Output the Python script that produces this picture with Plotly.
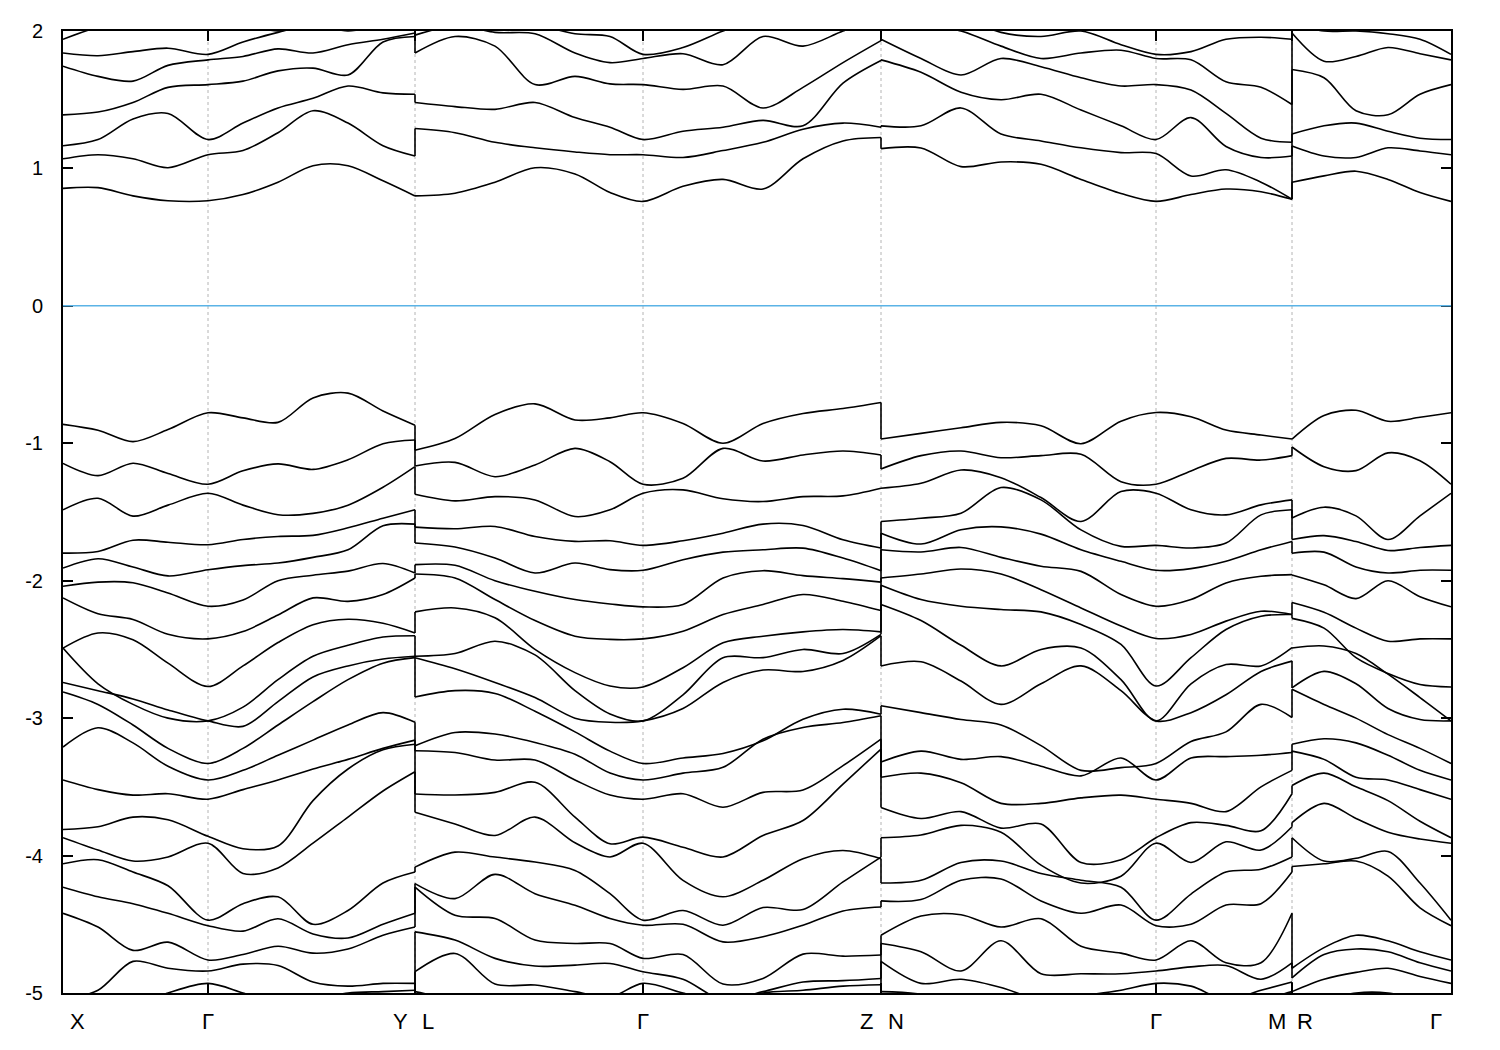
import plotly.graph_objects as go

# ---------------- high-symmetry points (path length units) ----------------
sym_labels = ["X", "Γ", "Y", "L", "Γ", "Z", "N", "Γ", "M", "R", "Γ"]
sym_k = [0.00, 1.45, 3.52, 3.52, 5.80, 8.18, 8.18, 10.93, 12.29, 12.29, 13.88]
grid_k = [1.45, 3.52, 5.80, 8.18, 10.93, 12.29]

# ---------------- segment 1 : X - Γ - Y ----------------
seg1_k = [0.00, 0.35, 0.70, 1.05, 1.45, 1.80, 2.15, 2.50, 2.85, 3.20, 3.52]
seg1_cond = [
    [0.855, 0.86, 0.80, 0.765, 0.765, 0.81, 0.90, 1.02, 1.02, 0.91, 0.80],
    [1.07, 1.10, 1.07, 1.005, 1.10, 1.13, 1.26, 1.42, 1.33, 1.165, 1.09],
    [1.165, 1.21, 1.36, 1.40, 1.21, 1.33, 1.44, 1.51, 1.60, 1.55, 1.54],
    [1.39, 1.41, 1.48, 1.59, 1.61, 1.635, 1.71, 1.73, 1.68, 1.92, 1.96],
    [1.744, 1.67, 1.635, 1.75, 1.79, 1.815, 1.87, 1.84, 1.90, 1.94, 1.985],
    [1.84, 1.82, 1.85, 1.875, 1.83, 1.92, 1.99, 2.05, 2.05, 2.10, 2.15],
    [1.94, 2.03, 2.10, 2.12, 2.06, 2.05, 2.00, 2.05, 2.00, 2.05, 2.10],
]
seg1_val = [
    [-0.862, -0.905, -0.988, -0.90, -0.778, -0.815, -0.848, -0.67, -0.635, -0.765, -0.868],
    [-1.146, -1.235, -1.145, -1.22, -1.298, -1.20, -1.15, -1.19, -1.12, -1.003, -0.976],
    [-1.484, -1.40, -1.53, -1.45, -1.364, -1.45, -1.52, -1.51, -1.45, -1.32, -1.17],
    [-1.799, -1.787, -1.705, -1.72, -1.738, -1.70, -1.678, -1.67, -1.615, -1.545, -1.484],
    [-1.908, -1.84, -1.90, -1.965, -1.92, -1.89, -1.871, -1.83, -1.775, -1.60, -1.588],
    [-2.04, -2.01, -2.015, -2.09, -2.186, -2.14, -2.00, -1.96, -1.93, -1.875, -1.944],
    [-2.125, -2.24, -2.282, -2.39, -2.423, -2.37, -2.25, -2.125, -2.15, -2.10, -1.98],
    [-2.49, -2.38, -2.43, -2.60, -2.77, -2.62, -2.45, -2.32, -2.28, -2.31, -2.38],
    [-2.49, -2.75, -2.90, -3.00, -3.02, -2.92, -2.72, -2.55, -2.47, -2.41, -2.40],
    [-2.74, -2.80, -2.86, -2.94, -3.02, -3.06, -2.88, -2.70, -2.62, -2.57, -2.55],
    [-2.81, -2.90, -3.05, -3.22, -3.33, -3.22, -3.05, -2.88, -2.72, -2.60, -2.56],
    [-3.21, -3.07, -3.18, -3.35, -3.45, -3.38, -3.27, -3.16, -3.05, -2.96, -3.03],
    [-3.45, -3.52, -3.56, -3.55, -3.59, -3.52, -3.45, -3.37, -3.30, -3.22, -3.16],
    [-3.81, -3.79, -3.72, -3.74, -3.86, -3.95, -3.93, -3.60, -3.37, -3.23, -3.19],
    [-3.87, -3.96, -4.04, -4.01, -3.91, -4.13, -4.09, -3.91, -3.72, -3.53, -3.39],
    [-4.06, -4.03, -4.12, -4.22, -4.47, -4.35, -4.30, -4.50, -4.40, -4.20, -4.12],
    [-4.23, -4.30, -4.35, -4.42, -4.51, -4.55, -4.46, -4.57, -4.60, -4.50, -4.42],
    [-4.42, -4.52, -4.69, -4.63, -4.76, -4.72, -4.66, -4.71, -4.68, -4.58, -4.52],
    [-5.05, -4.98, -4.77, -4.82, -4.84, -4.79, -4.80, -4.92, -4.95, -4.93, -4.93],
    [-5.20, -5.15, -5.10, -5.00, -4.93, -5.00, -5.08, -5.05, -5.00, -4.99, -4.98],
    [-5.30, -5.30, -5.30, -5.30, -5.30, -5.30, -5.30, -5.30, -5.30, -5.30, -5.30],
]

# ---------------- segment 2 : L - Γ - Z ----------------
seg2_k = [3.52, 3.92, 4.32, 4.72, 5.12, 5.47, 5.80, 6.20, 6.60, 7.00, 7.40, 7.80, 8.18]
seg2_cond = [
    [0.80, 0.82, 0.90, 1.005, 0.96, 0.825, 0.76, 0.87, 0.92, 0.85, 1.07, 1.20, 1.225],
    [1.29, 1.26, 1.19, 1.15, 1.12, 1.10, 1.10, 1.08, 1.13, 1.19, 1.285, 1.33, 1.30],
    [1.48, 1.45, 1.43, 1.48, 1.37, 1.30, 1.21, 1.27, 1.30, 1.35, 1.31, 1.62, 1.785],
    [1.84, 1.96, 1.89, 1.61, 1.67, 1.615, 1.61, 1.575, 1.60, 1.44, 1.59, 1.77, 1.93],
    [2.05, 2.05, 1.99, 1.98, 1.84, 1.77, 1.80, 1.835, 1.755, 1.96, 1.89, 2.00, 2.10],
    [1.97, 2.05, 2.10, 2.05, 1.98, 1.96, 1.83, 1.88, 2.00, 2.10, 2.15, 2.15, 2.15],
    [2.20, 2.20, 2.20, 2.15, 2.10, 2.08, 2.06, 2.10, 2.15, 2.20, 2.20, 2.20, 2.20],
]
seg2_val = [
    [-1.05, -0.965, -0.79, -0.713, -0.83, -0.815, -0.778, -0.856, -1.00, -0.856, -0.783, -0.747, -0.703],
    [-1.165, -1.139, -1.243, -1.158, -1.037, -1.134, -1.298, -1.255, -1.037, -1.129, -1.085, -1.056, -1.085],
    [-1.371, -1.419, -1.388, -1.412, -1.533, -1.484, -1.364, -1.339, -1.404, -1.424, -1.388, -1.383, -1.327],
    [-1.61, -1.622, -1.605, -1.678, -1.714, -1.709, -1.743, -1.709, -1.654, -1.588, -1.598, -1.702, -1.762],
    [-1.726, -1.755, -1.835, -1.944, -1.871, -1.919, -1.924, -1.847, -1.792, -1.775, -1.763, -1.835, -1.927],
    [-1.883, -1.888, -2.00, -2.077, -2.137, -2.169, -2.19, -2.173, -1.98, -1.927, -1.963, -1.985, -2.01],
    [-1.951, -1.98, -2.137, -2.29, -2.404, -2.427, -2.423, -2.367, -2.246, -2.173, -2.10, -2.149, -2.217],
    [-2.227, -2.198, -2.27, -2.50, -2.669, -2.766, -2.773, -2.633, -2.452, -2.404, -2.372, -2.355, -2.372],
    [-2.55, -2.53, -2.44, -2.54, -2.80, -2.97, -3.02, -2.83, -2.56, -2.56, -2.50, -2.53, -2.39],
    [-2.56, -2.64, -2.74, -2.85, -3.00, -3.03, -3.02, -2.93, -2.74, -2.65, -2.66, -2.58, -2.40],
    [-2.846, -2.80, -2.82, -2.95, -3.10, -3.24, -3.33, -3.29, -3.257, -3.165, -3.008, -2.935, -2.971],
    [-3.201, -3.104, -3.116, -3.177, -3.262, -3.40, -3.45, -3.40, -3.358, -3.153, -3.068, -3.032, -2.983],
    [-3.237, -3.25, -3.305, -3.305, -3.45, -3.56, -3.59, -3.55, -3.648, -3.54, -3.523, -3.346, -3.153],
    [-3.552, -3.559, -3.54, -3.467, -3.72, -3.914, -3.866, -3.939, -4.01, -3.854, -3.745, -3.48, -3.225],
    [-3.685, -3.77, -3.854, -3.72, -3.907, -4.01, -3.91, -4.18, -4.30, -4.18, -4.023, -3.963, -4.023],
    [-4.084, -3.975, -4.011, -4.047, -4.108, -4.277, -4.47, -4.40, -4.507, -4.378, -4.393, -4.192, -4.011],
    [-4.204, -4.313, -4.137, -4.277, -4.362, -4.458, -4.507, -4.50, -4.628, -4.591, -4.507, -4.403, -4.374],
    [-4.229, -4.434, -4.458, -4.615, -4.64, -4.64, -4.748, -4.72, -4.935, -4.894, -4.717, -4.732, -4.724],
    [-4.555, -4.615, -4.748, -4.804, -4.797, -4.785, -4.845, -4.90, -5.05, -4.99, -4.92, -4.91, -4.894],
    [-4.845, -4.712, -4.935, -4.942, -4.99, -5.03, -4.93, -5.00, -5.08, -5.00, -4.98, -4.95, -4.94],
    [-4.99, -5.05, -5.10, -5.10, -5.10, -5.10, -5.10, -5.15, -5.20, -5.20, -5.20, -5.20, -5.20],
]

# ---------------- segment 3 : N - Γ - M ----------------
seg3_k = [8.18, 8.58, 8.98, 9.38, 9.78, 10.18, 10.58, 10.93, 11.28, 11.63, 11.98, 12.29]
seg3_cond = [
    [1.144, 1.149, 1.013, 1.047, 1.03, 0.92, 0.817, 0.76, 0.81, 0.85, 0.83, 0.776],
    [1.31, 1.31, 1.44, 1.25, 1.20, 1.15, 1.115, 1.108, 0.945, 0.99, 0.90, 0.776],
    [1.79, 1.70, 1.555, 1.50, 1.54, 1.425, 1.31, 1.21, 1.37, 1.16, 1.08, 1.09],
    [1.94, 1.80, 1.68, 1.80, 1.74, 1.66, 1.60, 1.61, 1.57, 1.40, 1.22, 1.19],
    [2.10, 2.05, 2.00, 1.89, 1.80, 1.84, 1.86, 1.80, 1.79, 1.63, 1.59, 1.465],
    [2.20, 2.15, 2.10, 1.99, 1.96, 2.00, 1.90, 1.83, 1.85, 1.94, 1.955, 1.94],
    [2.30, 2.30, 2.30, 2.25, 2.20, 2.20, 2.10, 2.06, 2.15, 2.20, 2.20, 2.20],
]
seg3_val = [
    [-0.969, -0.928, -0.887, -0.848, -0.873, -1.003, -0.839, -0.776, -0.807, -0.904, -0.94, -0.969],
    [-1.187, -1.09, -1.056, -1.105, -1.09, -1.08, -1.279, -1.298, -1.201, -1.11, -1.122, -1.09],
    [-1.327, -1.291, -1.194, -1.25, -1.395, -1.569, -1.351, -1.363, -1.484, -1.521, -1.448, -1.412],
    [-1.569, -1.545, -1.509, -1.322, -1.412, -1.63, -1.75, -1.743, -1.762, -1.726, -1.521, -1.484],
    [-1.654, -1.733, -1.629, -1.608, -1.661, -1.775, -1.859, -1.924, -1.912, -1.859, -1.775, -1.714],
    [-1.775, -1.791, -1.758, -1.83, -1.895, -1.932, -2.101, -2.186, -2.137, -2.016, -1.968, -1.956],
    [-1.98, -1.951, -1.915, -1.951, -2.065, -2.198, -2.33, -2.42, -2.391, -2.294, -2.222, -2.246],
    [-2.033, -2.137, -2.186, -2.21, -2.227, -2.319, -2.464, -2.766, -2.56, -2.355, -2.258, -2.246],
    [-2.173, -2.29, -2.47, -2.62, -2.50, -2.49, -2.72, -3.02, -2.75, -2.61, -2.62, -2.487],
    [-2.62, -2.59, -2.73, -2.90, -2.75, -2.62, -2.80, -3.02, -2.96, -2.83, -2.66, -2.585],
    [-2.91, -2.96, -3.01, -3.05, -3.20, -3.38, -3.36, -3.33, -3.17, -3.10, -2.90, -2.995],
    [-3.32, -3.24, -3.30, -3.28, -3.35, -3.42, -3.29, -3.45, -3.29, -3.28, -3.27, -3.25],
    [-3.43, -3.40, -3.47, -3.62, -3.62, -3.58, -3.56, -3.59, -3.62, -3.68, -3.50, -3.38],
    [-3.65, -3.73, -3.68, -3.80, -3.77, -4.05, -4.03, -3.87, -3.76, -3.78, -3.82, -3.55],
    [-3.87, -3.85, -3.78, -3.83, -4.07, -4.20, -4.15, -3.91, -4.05, -3.90, -3.96, -3.79],
    [-4.20, -4.18, -4.05, -4.04, -4.13, -4.18, -4.23, -4.47, -4.28, -4.12, -4.10, -4.01],
    [-4.33, -4.32, -4.18, -4.17, -4.33, -4.42, -4.36, -4.51, -4.50, -4.36, -4.35, -4.12],
    [-4.58, -4.44, -4.43, -4.52, -4.46, -4.66, -4.71, -4.76, -4.62, -4.78, -4.78, -4.42],
    [-4.64, -4.70, -4.84, -4.62, -4.86, -4.86, -4.86, -4.84, -4.81, -4.80, -4.90, -4.78],
    [-4.77, -4.93, -4.90, -4.96, -5.05, -5.02, -4.98, -4.93, -4.95, -5.05, -4.98, -4.92],
    [-4.99, -5.01, -5.10, -5.15, -5.10, -5.10, -5.05, -5.05, -5.08, -5.10, -5.05, -4.99],
]

# ---------------- segment 4 : R - Γ ----------------
seg4_k = [12.29, 12.61, 12.93, 13.25, 13.57, 13.88]
seg4_cond = [
    [0.90, 0.946, 0.98, 0.92, 0.825, 0.76],
    [1.163, 1.09, 1.08, 1.15, 1.127, 1.10],
    [1.25, 1.31, 1.33, 1.27, 1.22, 1.21],
    [1.72, 1.66, 1.42, 1.39, 1.54, 1.61],
    [1.985, 1.78, 1.815, 1.88, 1.835, 1.79],
    [2.05, 2.00, 2.00, 1.98, 1.94, 1.83],
    [2.20, 2.20, 2.15, 2.10, 2.10, 2.05],
]
seg4_val = [
    [-0.969, -0.797, -0.76, -0.84, -0.811, -0.778],
    [-1.027, -1.17, -1.199, -1.07, -1.127, -1.298],
    [-1.543, -1.465, -1.528, -1.70, -1.528, -1.364],
    [-1.70, -1.672, -1.715, -1.78, -1.758, -1.743],
    [-1.80, -1.792, -1.90, -1.944, -1.924, -1.924],
    [-1.958, -2.03, -2.13, -2.00, -2.116, -2.19],
    [-2.159, -2.23, -2.345, -2.44, -2.423, -2.423],
    [-2.274, -2.345, -2.56, -2.675, -2.755, -2.773],
    [-2.489, -2.475, -2.53, -2.68, -2.85, -3.02],
    [-2.78, -2.66, -2.75, -2.93, -3.01, -3.02],
    [-2.79, -2.90, -3.00, -3.12, -3.22, -3.33],
    [-3.19, -3.15, -3.18, -3.27, -3.38, -3.45],
    [-3.24, -3.30, -3.43, -3.45, -3.52, -3.59],
    [-3.49, -3.40, -3.50, -3.60, -3.75, -3.87],
    [-3.76, -3.62, -3.73, -3.83, -3.88, -3.91],
    [-3.87, -4.04, -4.02, -3.97, -4.20, -4.47],
    [-4.08, -4.06, -4.04, -4.15, -4.38, -4.51],
    [-4.82, -4.67, -4.58, -4.62, -4.70, -4.76],
    [-4.89, -4.72, -4.68, -4.70, -4.78, -4.84],
    [-4.99, -4.90, -4.85, -4.82, -4.88, -4.93],
    [-5.10, -5.05, -5.00, -5.00, -5.05, -5.10],
]

y_ticks = [-5, -4, -3, -2, -1, 0, 1, 2]

segments = [
    (seg1_k, seg1_cond + seg1_val),
    (seg2_k, seg2_cond + seg2_val),
    (seg3_k, seg3_cond + seg3_val),
    (seg4_k, seg4_cond + seg4_val),
]

LINE_W = 1.6
fig = go.Figure()

# bands, drawn segment by segment
for k, bands in segments:
    for e in bands:
        fig.add_trace(go.Scatter(
            x=k, y=e, mode="lines",
            line=dict(color="black", width=LINE_W, shape="spline", smoothing=0.9),
            hoverinfo="skip", showlegend=False))

# vertical jumps where the path is discontinuous (bands are energy ordered)
for (k1, b1), (k2, b2) in zip(segments[:-1], segments[1:]):
    ends = sorted(b[-1] for b in b1)
    starts = sorted(b[0] for b in b2)
    xs, ys = [], []
    for a, b in zip(ends, starts):
        xs += [k1[-1], k1[-1], None]
        ys += [a, b, None]
    fig.add_trace(go.Scatter(x=xs, y=ys, mode="lines",
                             line=dict(color="black", width=LINE_W),
                             hoverinfo="skip", showlegend=False))

shapes = []
for gk in grid_k:
    shapes.append(dict(type="line", xref="x", yref="paper", x0=gk, x1=gk, y0=0, y1=1,
                       line=dict(color="#b4b4b4", width=1, dash="3px,3px"), layer="below"))
shapes.append(dict(type="line", xref="paper", yref="y", x0=0, x1=1, y0=0, y1=0,
                   line=dict(color="#5bb3e6", width=1.5), layer="above"))

# x labels, offset like the original
label_shift = [14, 0, -15, 13, 0, -15, 15, 0, -15, 13, -15]
annotations = []
for lab, kk, sh in zip(sym_labels, sym_k, label_shift):
    annotations.append(dict(x=kk, y=0, xref="x", yref="paper", text=lab, showarrow=False,
                            xanchor="center", yanchor="middle", xshift=sh, yshift=-28,
                            font=dict(family="Liberation Sans Narrow, Arial Narrow, Liberation Sans, Arial",
                                      size=22, color="black")))

# the page adds an 8 px body margin, so the figure is sized to fit 1500x1050
fig.update_layout(
    width=1492, height=1042,
    margin=dict(l=55, r=49, t=20, b=57),
    paper_bgcolor="white", plot_bgcolor="white",
    shapes=shapes, annotations=annotations,
    showlegend=False,
    xaxis=dict(range=[sym_k[0], sym_k[-1]], tickvals=sym_k, ticks="inside", ticklen=10,
               tickcolor="black", tickwidth=1.5, showticklabels=False,
               showline=True, linecolor="black", linewidth=2, mirror="ticks",
               showgrid=False, zeroline=False, fixedrange=True),
    yaxis=dict(range=[-5, 2], tickvals=y_ticks, ticktext=[str(v) for v in y_ticks],
               ticks="inside", ticklen=10, tickcolor="black", tickwidth=1.5,
               showline=True, linecolor="black", linewidth=2, mirror="ticks",
               showgrid=False, zeroline=False, ticklabelstandoff=14,
               tickfont=dict(family="Liberation Sans, Arial", size=20, color="black")),
)

fig.write_html("out.html")
